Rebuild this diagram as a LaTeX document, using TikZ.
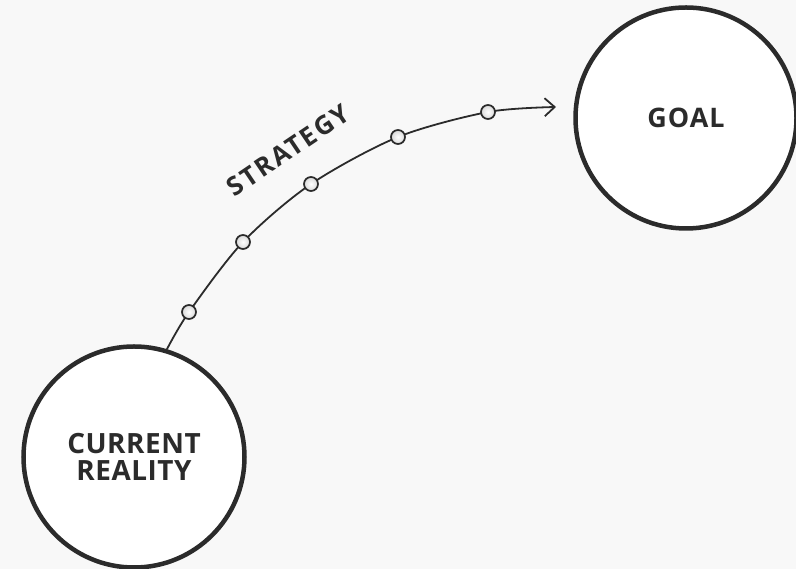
\documentclass[tikz,border=0pt]{standalone}
\usepackage{fontspec}
\setmainfont{Open Sans}
\usetikzlibrary{arrows.meta}
\definecolor{bg}{HTML}{F8F8F8}
\definecolor{ink}{HTML}{2B2B2B}

\begin{document}
\begin{tikzpicture}[x=1bp, y=1bp,
    stage/.style={shape=circle, draw=ink, line width=4.5bp, fill=white, minimum size=221bp, align=center, text=ink},
    milestone/.style={shape=circle, draw=ink, line width=1.7bp, inner color=white, outer color=gray!30, minimum size=14bp, inner sep=0pt}]
    \fill[bg] (0, 0) rectangle (796, 569);
    \useasboundingbox (0, 0) rectangle (796, 569);

    \node[stage, font=\bfseries\fontsize{28}{27}\selectfont\addfontfeature{LetterSpace=2}] (current) at (134, 112) {CURRENT\\REALITY};
    \node[stage, font=\bfseries\fontsize{27}{27}\selectfont\addfontfeature{LetterSpace=4}] (goal) at (686, 451) {GOAL};

    \coordinate (m1) at (189, 257);
    \coordinate (m2) at (243, 327);
    \coordinate (m3) at (311, 385);
    \coordinate (m4) at (398, 432);
    \coordinate (m5) at (488, 457);
    \coordinate (tip) at (556, 462);

    \draw[ink, line width=1.8bp, -{Straight Barb[length=10bp, width=18bp]}] plot[smooth] coordinates {(current.73) (m1) (m2) (m3) (m4) (m5) (tip)};

    \node[milestone] (s1) at (m1) {};
    \node[milestone] (s2) at (m2) {};
    \node[milestone] (s3) at (m3) {};
    \node[milestone] (s4) at (m4) {};
    \node[milestone] (s5) at (m5) {};

    \node[rotate=34, text=ink, font=\bfseries\fontsize{26}{26}\selectfont\addfontfeature{LetterSpace=8}] (strategy) at (288, 419) {STRATEGY};
\end{tikzpicture}
\end{document}
